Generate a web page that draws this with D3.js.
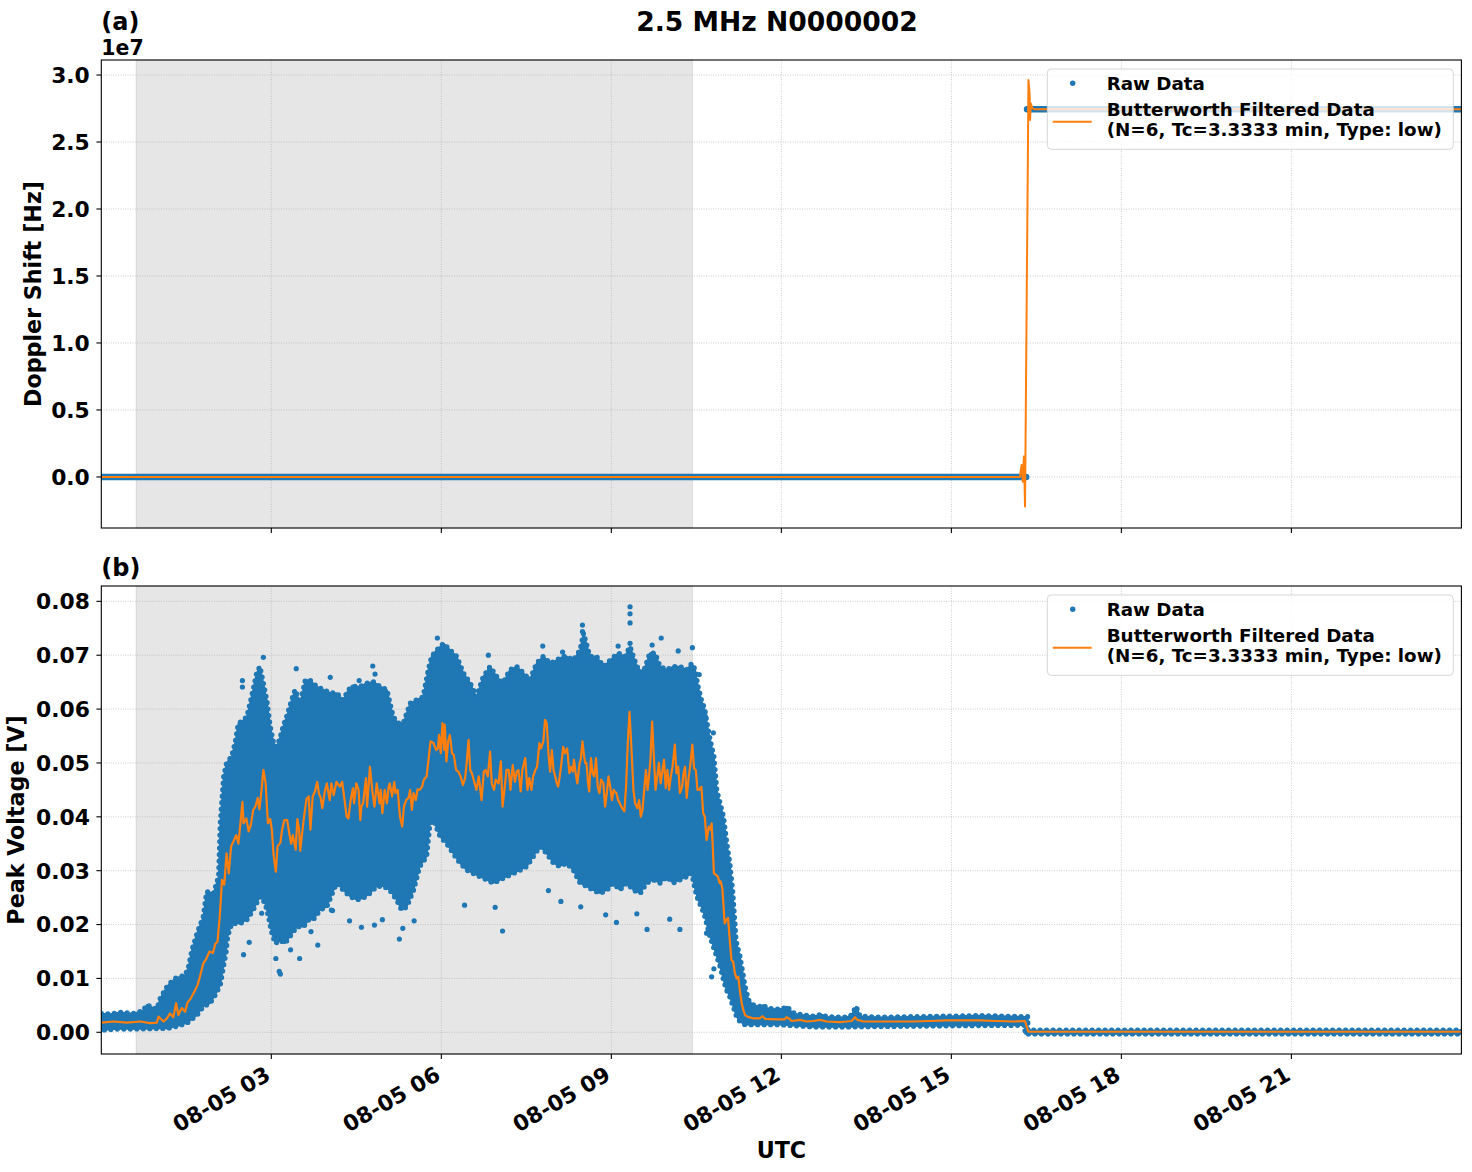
<!DOCTYPE html>
<html><head><meta charset="utf-8">
<script src="https://cdn.jsdelivr.net/npm/d3@7/dist/d3.min.js"></script>
<style>
body{margin:0;background:#fff;}
svg text{font-family:"DejaVu Sans";font-weight:bold;fill:#000;}
</style></head><body>
<svg id="chart" width="1472" height="1172"></svg>
<script>
// ---------------- data ----------------
const titleText = "2.5 MHz N0000002";
const xTickHours = [3, 6, 9, 12, 15, 18, 21];
const xTickLabels = ["08-05 03", "08-05 06", "08-05 09", "08-05 12", "08-05 15", "08-05 18", "08-05 21"];
const nightSpan = [0.616, 10.43]; // shaded interval, hours UTC

const dopplerTicks = [0, 0.5e7, 1.0e7, 1.5e7, 2.0e7, 2.5e7, 3.0e7];
const dopplerTickLabels = ["0.0", "0.5", "1.0", "1.5", "2.0", "2.5", "3.0"];
const voltTicks = [0, 0.01, 0.02, 0.03, 0.04, 0.05, 0.06, 0.07, 0.08];
const voltTickLabels = ["0.00", "0.01", "0.02", "0.03", "0.04", "0.05", "0.06", "0.07", "0.08"];

// Panel (a): Doppler shift raw (null = break)
const dopplerRawTimes  = [0, 16.32, 16.325, 16.335, 24];
const dopplerRawValues = [0, 0, null, 2.744e7, 2.744e7];
// Panel (a): Butterworth filtered
const dopplerFiltTimes  = [0, 16.21, 16.24, 16.26, 16.28, 16.29, 16.30, 16.33, 16.35, 16.36, 16.38, 16.39, 16.40, 16.42, 16.43, 16.47, 24];
const dopplerFiltValues = [0, 0, 0.9e6, -0.35e6, 1.52e6, -0.22e6, -2.21e6, 1.37e7, 2.37e7, 2.963e7, 2.863e7, 2.664e7, 2.789e7, 2.764e7, 2.751e7, 2.744e7, 2.744e7];

// Panel (b): raw data envelope (upper / lower edges of the dense point cloud)
const voltUpperTimes = [0, 0.16, 0.33, 0.57, 0.74, 0.80, 0.98, 1.04, 1.16, 1.21, 1.30, 1.39, 1.48, 1.54, 1.60, 1.69, 1.80, 1.86, 1.98, 2.07, 2.10, 2.16, 2.21, 2.30, 2.36, 2.42, 2.48, 2.57, 2.68, 2.74, 2.80, 2.86, 2.92, 2.98, 3.04, 3.10, 3.16, 3.21, 3.27, 3.36, 3.42, 3.51, 3.60, 3.68, 3.80, 3.92, 4.04,
  4.15, 4.27, 4.36, 4.45, 4.57, 4.68, 4.80, 4.92, 5.04, 5.15, 5.24, 5.33, 5.45, 5.56, 5.68, 5.77, 5.83, 5.92, 6.04, 6.15, 6.27, 6.39, 6.51, 6.62, 6.74, 6.86, 6.98, 7.09, 7.21, 7.33, 7.45, 7.56, 7.68, 7.80, 7.92, 8.03, 8.15,
  8.21, 8.33, 8.45, 8.51, 8.62, 8.74, 8.86, 8.98, 9.12, 9.24, 9.33, 9.45, 9.56, 9.68, 9.77, 9.86, 9.98, 10.09, 10.21, 10.33, 10.42, 10.48, 10.53, 10.59, 10.65, 10.71, 10.77, 10.81, 10.86, 10.92, 10.98, 11.03, 11.09, 11.14, 11.16, 11.20, 11.24, 11.27, 11.32, 11.36, 11.42, 11.50, 11.62, 11.68, 11.74,
  11.92, 12.03, 12.10, 12.18, 12.27, 12.56, 12.71, 12.80, 13.15, 13.24, 13.32, 13.39, 13.74, 14.92, 15.50, 16.30, 16.35, 16.35, 24];
const voltUpperValues = [0.0035, 0.0034, 0.0037, 0.0035, 0.0040, 0.0051, 0.0043, 0.0063, 0.0085, 0.0091, 0.0100, 0.0103, 0.0106, 0.0122, 0.0153, 0.0184, 0.0215, 0.0261, 0.0258, 0.0289, 0.0388, 0.0475, 0.0500, 0.0512, 0.0537, 0.0574, 0.0577, 0.0586, 0.0636, 0.0667, 0.0679, 0.0648, 0.0617, 0.0568, 0.0537, 0.0530, 0.0549, 0.0568, 0.0586, 0.0617, 0.0636, 0.0611, 0.0654, 0.0654, 0.0642, 0.0636, 0.0630,
  0.0630, 0.0617, 0.0636, 0.0642, 0.0642, 0.0648, 0.0651, 0.0642, 0.0636, 0.0586, 0.0574, 0.0574, 0.0611, 0.0617, 0.0623, 0.0673, 0.0698, 0.0710, 0.0722, 0.0710, 0.0698, 0.0667, 0.0648, 0.0623, 0.0660, 0.0679, 0.0660, 0.0648, 0.0673, 0.0679, 0.0667, 0.0654, 0.0685, 0.0698, 0.0685, 0.0691, 0.0698,
  0.0698, 0.0691, 0.0710, 0.0741, 0.0698, 0.0698, 0.0679, 0.0691, 0.0704, 0.0698, 0.0716, 0.0679, 0.0667, 0.0704, 0.0704, 0.0679, 0.0673, 0.0679, 0.0679, 0.0673, 0.0685, 0.0673, 0.0642, 0.0617, 0.0599, 0.0561, 0.0530, 0.0512, 0.0450, 0.0425, 0.0400, 0.0357, 0.0314, 0.0264, 0.0233, 0.0171, 0.0153, 0.0141, 0.0110, 0.0085, 0.0060, 0.0051, 0.0048, 0.0051, 0.0045,
  0.0043, 0.0044, 0.0048, 0.0038, 0.0034, 0.0030, 0.0033, 0.0029, 0.0028, 0.0032, 0.0048, 0.0030, 0.0028, 0.0030, 0.0031, 0.0029, 0.0029, 0.0004, 0.0004];
const voltLowerTimes = [0, 0.27, 0.57, 0.98, 1.16, 1.33, 1.51, 1.69, 1.80, 1.92, 2.01, 2.10, 2.16, 2.20, 2.23, 2.30, 2.45, 2.57, 2.68, 2.80, 2.89, 2.95, 3.01, 3.07, 3.16, 3.24, 3.33, 3.45, 3.57, 3.66, 3.74, 3.86, 3.98, 4.10,
  4.15, 4.27, 4.39, 4.51, 4.62, 4.74, 4.86, 4.98, 5.09, 5.21, 5.30, 5.39, 5.51, 5.62, 5.74, 5.80, 5.86, 5.98, 6.09, 6.21, 6.33, 6.45, 6.56, 6.68, 6.80, 6.92, 7.04, 7.15, 7.27, 7.39, 7.51, 7.62, 7.74, 7.86, 7.98, 8.09,
  8.21, 8.33, 8.45, 8.56, 8.68, 8.80, 8.92, 9.04, 9.15, 9.27, 9.39, 9.51, 9.62, 9.74, 9.86, 9.98, 10.09, 10.21, 10.33, 10.42, 10.48, 10.53, 10.59, 10.65, 10.68, 10.74, 10.80, 10.86, 10.92, 10.98, 11.03, 11.09, 11.15, 11.21, 11.27, 11.36, 11.50,
  11.98, 12.56, 13.15, 14.92, 16.30, 16.30, 24];
const voltLowerValues = [0.0004, 0.0006, 0.0006, 0.0007, 0.0007, 0.0011, 0.0017, 0.0032, 0.0048, 0.0054, 0.0069, 0.0088, 0.0125, 0.0147, 0.0178, 0.0202, 0.0202, 0.0209, 0.0227, 0.0252, 0.0240, 0.0215, 0.0184, 0.0165, 0.0171, 0.0165, 0.0178, 0.0196, 0.0196, 0.0209, 0.0209, 0.0227, 0.0233, 0.0264,
  0.0277, 0.0264, 0.0252, 0.0246, 0.0249, 0.0258, 0.0271, 0.0271, 0.0264, 0.0246, 0.0227, 0.0233, 0.0264, 0.0308, 0.0326, 0.0388, 0.0394, 0.0363, 0.0351, 0.0332, 0.0314, 0.0301, 0.0295, 0.0289, 0.0283, 0.0277, 0.0283, 0.0289, 0.0295, 0.0301, 0.0308, 0.0326, 0.0345, 0.0332, 0.0314, 0.0308,
  0.0314, 0.0301, 0.0277, 0.0271, 0.0264, 0.0258, 0.0264, 0.0277, 0.0264, 0.0277, 0.0264, 0.0258, 0.0277, 0.0283, 0.0277, 0.0289, 0.0277, 0.0283, 0.0289, 0.0295, 0.0264, 0.0246, 0.0233, 0.0215, 0.0202, 0.0178, 0.0159, 0.0141, 0.0122, 0.0097, 0.0079, 0.0066, 0.0048, 0.0029, 0.0020, 0.0014, 0.0014,
  0.0014, 0.0010, 0.0010, 0.0012, 0.0013, -0.0003, -0.0003];

// Panel (b): isolated raw points outside the dense cloud
const outlierTimes  = [2.86, 2.49, 2.49, 3.44, 4.04, 2.51, 2.61, 2.83, 2.97, 3.08, 3.14, 3.16, 3.34, 3.50, 3.82, 3.70, 4.06,
  5.93, 4.79, 4.83, 4.55, 4.44, 6.83, 7.79, 8.14, 5.26, 5.32, 5.52, 4.59, 4.38, 4.82, 4.96, 6.41, 7.08, 6.95, 4.08, 7.89, 8.11,
  8.49, 8.49, 9.33, 9.33, 9.33, 9.33, 9.88, 9.72, 9.12, 10.18, 10.43, 10.55, 10.66, 10.80, 9.09, 9.63, 10.21, 10.03, 10.81, 10.77, 8.46, 8.90, 9.45, 10.68];
const outlierValues = [0.0696, 0.0653, 0.0641, 0.0675, 0.0659, 0.0144, 0.0167, 0.0221, 0.0222, 0.0137, 0.0113, 0.0108, 0.0153, 0.0137, 0.0162, 0.0187, 0.0227,
  0.0732, 0.0680, 0.0665, 0.0653, 0.0641, 0.0700, 0.0717, 0.0706, 0.0173, 0.0193, 0.0207, 0.0195, 0.0207, 0.0199, 0.0209, 0.0236, 0.0188, 0.0232, 0.0226, 0.0263, 0.0243,
  0.0756, 0.0744, 0.0790, 0.0777, 0.0760, 0.0722, 0.0732, 0.0719, 0.0717, 0.0708, 0.0714, 0.0664, 0.0586, 0.0556, 0.0204, 0.0191, 0.0191, 0.0210, 0.0118, 0.0103, 0.0233, 0.0218, 0.0220, 0.0184];

// Panel (b): Butterworth filtered
const voltFiltTimes = [0.00, 0.22, 0.45, 0.69, 0.86, 0.98, 1.01, 1.10, 1.16, 1.21, 1.27, 1.32, 1.36, 1.42, 1.48, 1.52, 1.58, 1.66, 1.70, 1.74, 1.80, 1.85, 1.91, 1.97, 2.01, 2.05, 2.09, 2.13, 2.17, 2.21, 2.25, 2.29, 2.33, 2.38, 2.42, 2.46, 2.49, 2.51, 2.56, 2.60, 2.64, 2.68, 2.72, 2.76, 2.79, 2.83, 2.86, 2.90, 2.94, 2.98,
  3.01, 3.04, 3.08, 3.11, 3.16, 3.19, 3.23, 3.28, 3.31, 3.35, 3.38, 3.43, 3.46, 3.49, 3.51, 3.57, 3.62, 3.66, 3.69, 3.73, 3.77, 3.81, 3.84, 3.87, 3.90, 3.94, 3.98, 4.03, 4.06, 4.10,
  4.15, 4.21, 4.25, 4.30, 4.33, 4.36, 4.40, 4.44, 4.46, 4.50, 4.54, 4.57, 4.59, 4.62, 4.67, 4.69, 4.74, 4.78, 4.82, 4.86, 4.91, 4.93, 4.96, 5.00, 5.04, 5.07, 5.09, 5.13, 5.17, 5.19, 5.23, 5.27, 5.31, 5.34, 5.38, 5.42, 5.45, 5.48, 5.51, 5.55, 5.58, 5.62, 5.66, 5.69, 5.74, 5.78, 5.81, 5.86, 5.91, 5.94, 5.96, 5.99,
  6.02, 6.05, 6.06, 6.09, 6.12, 6.15, 6.19, 6.22, 6.26, 6.30, 6.34, 6.38, 6.42, 6.45, 6.48, 6.51, 6.54, 6.58, 6.62, 6.66, 6.71, 6.75, 6.78, 6.82, 6.86, 6.89, 6.93, 6.96, 7.01, 7.05, 7.08, 7.12, 7.15, 7.19, 7.22, 7.26, 7.30, 7.33, 7.36, 7.40, 7.43, 7.48, 7.52, 7.55, 7.59, 7.62, 7.66, 7.69, 7.73, 7.76, 7.80, 7.83, 7.86, 7.89, 7.92, 7.95, 7.98,
  8.01, 8.03, 8.06, 8.09, 8.12, 8.15, 8.18, 8.22, 8.26, 8.29, 8.32, 8.34, 8.37, 8.40, 8.44, 8.46, 8.49, 8.52, 8.54, 8.56, 8.59, 8.61, 8.64, 8.67, 8.70, 8.73, 8.76, 8.79, 8.82, 8.86, 8.89, 8.92, 8.95, 8.98,
  9.01, 9.04, 9.06, 9.09, 9.12, 9.15, 9.19, 9.23, 9.26, 9.29, 9.32, 9.35, 9.39, 9.42, 9.46, 9.49, 9.52, 9.55, 9.58, 9.61, 9.64, 9.67, 9.69, 9.72, 9.75, 9.78, 9.81, 9.84, 9.87, 9.90, 9.93, 9.96, 9.99,
  10.02, 10.05, 10.08, 10.12, 10.15, 10.18, 10.21, 10.25, 10.27, 10.30, 10.33, 10.36, 10.39, 10.43, 10.46, 10.49, 10.52, 10.55, 10.59, 10.62, 10.65, 10.68, 10.72, 10.75, 10.77, 10.79, 10.81, 10.85, 10.88, 10.91, 10.93, 10.96, 10.98,
  11.00, 11.03, 11.06, 11.09, 11.12, 11.15, 11.18, 11.21, 11.24, 11.27, 11.30, 11.33, 11.36, 11.40, 11.50, 11.62, 11.67, 11.71, 11.92, 12.06, 12.09, 12.14, 12.18, 12.33, 12.45, 12.56, 12.68, 12.80, 13.03, 13.15, 13.24, 13.30, 13.34, 13.45, 13.74, 14.33, 14.62, 14.92, 15.21, 15.50, 15.80, 16.09, 16.30, 16.33, 16.36, 24.00];
const voltFiltValues = [0.0018, 0.0020, 0.0018, 0.0020, 0.0017, 0.0018, 0.0029, 0.0020, 0.0026, 0.0035, 0.0028, 0.0054, 0.0032, 0.0045, 0.0038, 0.0055, 0.0063, 0.0079, 0.0088, 0.0103, 0.0128, 0.0136, 0.0150, 0.0147, 0.0164, 0.0168, 0.0215, 0.0283, 0.0274, 0.0332, 0.0295, 0.0345, 0.0354, 0.0366, 0.0350, 0.0394, 0.0428, 0.0388, 0.0397, 0.0373, 0.0385, 0.0413, 0.0419, 0.0435, 0.0414, 0.0453, 0.0487, 0.0462, 0.0388, 0.0396,
  0.0376, 0.0329, 0.0298, 0.0345, 0.0352, 0.0376, 0.0394, 0.0394, 0.0374, 0.0350, 0.0366, 0.0339, 0.0396, 0.0376, 0.0337, 0.0394, 0.0433, 0.0438, 0.0376, 0.0438, 0.0447, 0.0465, 0.0443, 0.0436, 0.0416, 0.0445, 0.0462, 0.0431, 0.0462, 0.0440,
  0.0465, 0.0456, 0.0465, 0.0425, 0.0400, 0.0397, 0.0431, 0.0453, 0.0425, 0.0462, 0.0450, 0.0394, 0.0419, 0.0425, 0.0472, 0.0419, 0.0493, 0.0450, 0.0419, 0.0462, 0.0425, 0.0450, 0.0407, 0.0450, 0.0425, 0.0456, 0.0462, 0.0438, 0.0465, 0.0444, 0.0450, 0.0400, 0.0382, 0.0419, 0.0431, 0.0435, 0.0450, 0.0413, 0.0444, 0.0431, 0.0451, 0.0450, 0.0456, 0.0469, 0.0475, 0.0512, 0.0540, 0.0537, 0.0524, 0.0527, 0.0552, 0.0518,
  0.0574, 0.0524, 0.0571, 0.0503, 0.0540, 0.0552, 0.0518, 0.0515, 0.0487, 0.0484, 0.0475, 0.0459, 0.0472, 0.0503, 0.0543, 0.0487, 0.0481, 0.0465, 0.0450, 0.0475, 0.0431, 0.0484, 0.0487, 0.0475, 0.0521, 0.0462, 0.0450, 0.0469, 0.0462, 0.0503, 0.0419, 0.0456, 0.0487, 0.0487, 0.0450, 0.0496, 0.0465, 0.0484, 0.0487, 0.0447, 0.0487, 0.0509, 0.0450, 0.0472, 0.0450, 0.0475, 0.0487, 0.0493, 0.0537, 0.0527, 0.0540, 0.0580, 0.0574, 0.0518, 0.0484, 0.0524, 0.0487,
  0.0475, 0.0465, 0.0456, 0.0475, 0.0500, 0.0530, 0.0518, 0.0527, 0.0481, 0.0493, 0.0484, 0.0506, 0.0481, 0.0462, 0.0500, 0.0506, 0.0540, 0.0512, 0.0500, 0.0500, 0.0462, 0.0447, 0.0509, 0.0481, 0.0475, 0.0509, 0.0456, 0.0444, 0.0469, 0.0462, 0.0419, 0.0444, 0.0475, 0.0456,
  0.0431, 0.0450, 0.0447, 0.0444, 0.0431, 0.0425, 0.0416, 0.0410, 0.0456, 0.0537, 0.0595, 0.0537, 0.0450, 0.0425, 0.0416, 0.0431, 0.0400, 0.0413, 0.0450, 0.0487, 0.0450, 0.0481, 0.0506, 0.0577, 0.0512, 0.0450, 0.0475, 0.0500, 0.0462, 0.0484, 0.0506, 0.0453, 0.0487,
  0.0450, 0.0475, 0.0493, 0.0534, 0.0481, 0.0493, 0.0444, 0.0456, 0.0478, 0.0493, 0.0435, 0.0469, 0.0493, 0.0534, 0.0490, 0.0487, 0.0450, 0.0450, 0.0456, 0.0407, 0.0400, 0.0357, 0.0382, 0.0376, 0.0388, 0.0345, 0.0295, 0.0292, 0.0289, 0.0277, 0.0280, 0.0267, 0.0233,
  0.0202, 0.0209, 0.0212, 0.0171, 0.0134, 0.0131, 0.0110, 0.0100, 0.0103, 0.0076, 0.0054, 0.0041, 0.0032, 0.0029, 0.0026, 0.0026, 0.0030, 0.0025, 0.0024, 0.0024, 0.0028, 0.0025, 0.0021, 0.0023, 0.0020, 0.0021, 0.0023, 0.0020, 0.0019, 0.0020, 0.0021, 0.0028, 0.0023, 0.0020, 0.0020, 0.0020, 0.0021, 0.0022, 0.0022, 0.0022, 0.0021, 0.0020, 0.0021, 0.0010, 0.0001, 0.0001];

const legendLabels = ["Raw Data", "Butterworth Filtered Data", "(N=6, Tc=3.3333 min, Type: low)"];

// ---------------- drawing ----------------
const BLUE = "#1f77b4", ORANGE = "#ff7f0e";
const TICK_FS = 21.8, LABEL_FS = 22.2, LEGEND_FS = 18.3, TITLE_FS = 26.6, PANEL_FS = 24, OFFSET_FS = 20.5;
const svg = d3.select("#chart");
const L = 101.3, R = 1461.4;
const panels = [
  {id: "a", y0: 60, y1: 528, label: "(a)", labelY: 29.5, ylabel: "Doppler Shift [Hz]", ylabelX: 41},
  {id: "b", y0: 586, y1: 1054, label: "(b)", labelY: 576, ylabel: "Peak Voltage [V]", ylabelX: 24}
];
const x = d3.scaleLinear().domain([0, 24]).range([L, R]);
const yA = d3.scaleLinear().domain([-0.381e7, 3.112e7]).range([528, 60]);
const yB = d3.scaleLinear().domain([-0.00403, 0.08285]).range([1054, 586]);
panels[0].y = yA; panels[0].ticks = dopplerTicks; panels[0].tickLabels = dopplerTickLabels;
panels[1].y = yB; panels[1].ticks = voltTicks; panels[1].tickLabels = voltTickLabels;

const zipPts = (t, v) => t.map((d, i) => ({t: d, v: v[i]}));

panels.forEach(p => {
  const g = svg.append("g");
  const clipId = "clip-" + p.id;
  svg.append("clipPath").attr("id", clipId).append("rect")
    .attr("x", L).attr("y", p.y0).attr("width", R - L).attr("height", p.y1 - p.y0);
  // night shading
  g.append("rect").attr("x", x(nightSpan[0])).attr("width", x(nightSpan[1]) - x(nightSpan[0]))
    .attr("y", p.y0).attr("height", p.y1 - p.y0).attr("fill", "#808080").attr("fill-opacity", 0.2)
    .attr("stroke", "#808080").attr("stroke-opacity", 0.2).attr("stroke-width", 1);
  // grid
  const grid = g.append("g").attr("stroke", "#b0b0b0").attr("stroke-width", 0.8).attr("stroke-dasharray", "0.8,1.6");
  xTickHours.forEach(h => grid.append("line").attr("x1", x(h)).attr("x2", x(h)).attr("y1", p.y0).attr("y2", p.y1));
  p.ticks.forEach(v => grid.append("line").attr("x1", L).attr("x2", R).attr("y1", p.y(v)).attr("y2", p.y(v)));

  const data = g.append("g").attr("clip-path", `url(#${clipId})`);
  if (p.id === "a") {
    const line = d3.line().defined(d => d.v !== null).x(d => x(d.t)).y(d => yA(d.v));
    data.append("path").datum(zipPts(dopplerRawTimes, dopplerRawValues)).attr("d", line)
      .attr("fill", "none").attr("stroke", BLUE).attr("stroke-width", 6.5).attr("stroke-linecap", "round");
    data.append("path").datum(zipPts(dopplerFiltTimes, dopplerFiltValues)).attr("d", line)
      .attr("fill", "none").attr("stroke", ORANGE).attr("stroke-width", 2).attr("stroke-linejoin", "round");
  } else {
    const up = zipPts(voltUpperTimes, voltUpperValues);
    const lo = zipPts(voltLowerTimes, voltLowerValues).reverse();
    const poly = d3.line().x(d => x(d.t)).y(d => yB(d.v));
    const d = poly(up.concat(lo)) + "Z";
    data.append("path").attr("d", d)
      .attr("fill", BLUE).attr("stroke", BLUE).attr("stroke-width", 1.5).attr("stroke-linejoin", "round");
    // dotted outline gives the cloud edge the look of individual markers
    data.append("path").attr("d", d).attr("fill", "none").attr("stroke", BLUE)
      .attr("stroke-width", 5.2).attr("stroke-linecap", "round").attr("stroke-dasharray", "0,6.5");
    data.selectAll("circle.out").data(zipPts(outlierTimes, outlierValues)).enter().append("circle")
      .attr("cx", d => x(d.t)).attr("cy", d => yB(d.v)).attr("r", 2.6).attr("fill", BLUE);
    data.append("path").datum(zipPts(voltFiltTimes, voltFiltValues))
      .attr("d", d3.line().x(d => x(d.t)).y(d => yB(d.v)))
      .attr("fill", "none").attr("stroke", ORANGE).attr("stroke-width", 2.2).attr("stroke-linejoin", "round");
  }

  // spines
  g.append("rect").attr("x", L).attr("y", p.y0).attr("width", R - L).attr("height", p.y1 - p.y0)
    .attr("fill", "none").attr("stroke", "#000").attr("stroke-width", 1.1);
  // x ticks
  xTickHours.forEach(h => g.append("line").attr("x1", x(h)).attr("x2", x(h)).attr("y1", p.y1).attr("y2", p.y1 + 4.9)
    .attr("stroke", "#000").attr("stroke-width", 1.1));
  // y ticks + labels
  p.ticks.forEach((v, i) => {
    g.append("line").attr("x1", L - 4.9).attr("x2", L).attr("y1", p.y(v)).attr("y2", p.y(v))
      .attr("stroke", "#000").attr("stroke-width", 1.1);
    g.append("text").attr("x", L - 11.5).attr("y", p.y(v)).attr("dy", "0.36em")
      .attr("text-anchor", "end").attr("font-size", TICK_FS).text(p.tickLabels[i]);
  });
  // y label
  g.append("text").attr("transform", `translate(${p.ylabelX},${(p.y0 + p.y1) / 2}) rotate(-90)`)
    .attr("text-anchor", "middle").attr("font-size", LABEL_FS).text(p.ylabel);
  // panel label
  g.append("text").attr("x", L).attr("y", p.labelY).attr("font-size", PANEL_FS).text(p.label);

  // legend
  const lg = g.append("g").attr("transform", `translate(1047.3,${p.y0 + 9})`);
  lg.append("rect").attr("width", 406).attr("height", 80.3).attr("rx", 4)
    .attr("fill", "#fff").attr("fill-opacity", 0.8).attr("stroke", "#cccccc").attr("stroke-opacity", 0.8).attr("stroke-width", 1);
  lg.append("circle").attr("cx", 25.4).attr("cy", 14.3).attr("r", 2.7).attr("fill", BLUE);
  lg.append("line").attr("x1", 5.4).attr("x2", 44.4).attr("y1", 52.7).attr("y2", 52.7).attr("stroke", ORANGE).attr("stroke-width", 2);
  lg.append("text").attr("x", 59.4).attr("y", 20.5).attr("font-size", LEGEND_FS).text(legendLabels[0]);
  lg.append("text").attr("x", 59.4).attr("y", 47).attr("font-size", LEGEND_FS).text(legendLabels[1]);
  lg.append("text").attr("x", 59.4).attr("y", 67.3).attr("font-size", LEGEND_FS).text(legendLabels[2]);
});

// x tick labels (bottom panel only)
xTickHours.forEach((h, i) => {
  svg.append("text").attr("transform", `translate(${x(h) + 0.5},1079) rotate(-30)`)
    .attr("text-anchor", "end").attr("font-size", TICK_FS).text(xTickLabels[i]);
});
// offset text
svg.append("text").attr("x", L).attr("y", 54.5).attr("font-size", OFFSET_FS).text("1e7");
// x label
svg.append("text").attr("x", (L + R) / 2).attr("y", 1158.3).attr("text-anchor", "middle").attr("font-size", LABEL_FS).text("UTC");
// title
svg.append("text").attr("x", 777).attr("y", 30.7).attr("text-anchor", "middle").attr("font-size", TITLE_FS).text(titleText);
</script>
</body></html>
